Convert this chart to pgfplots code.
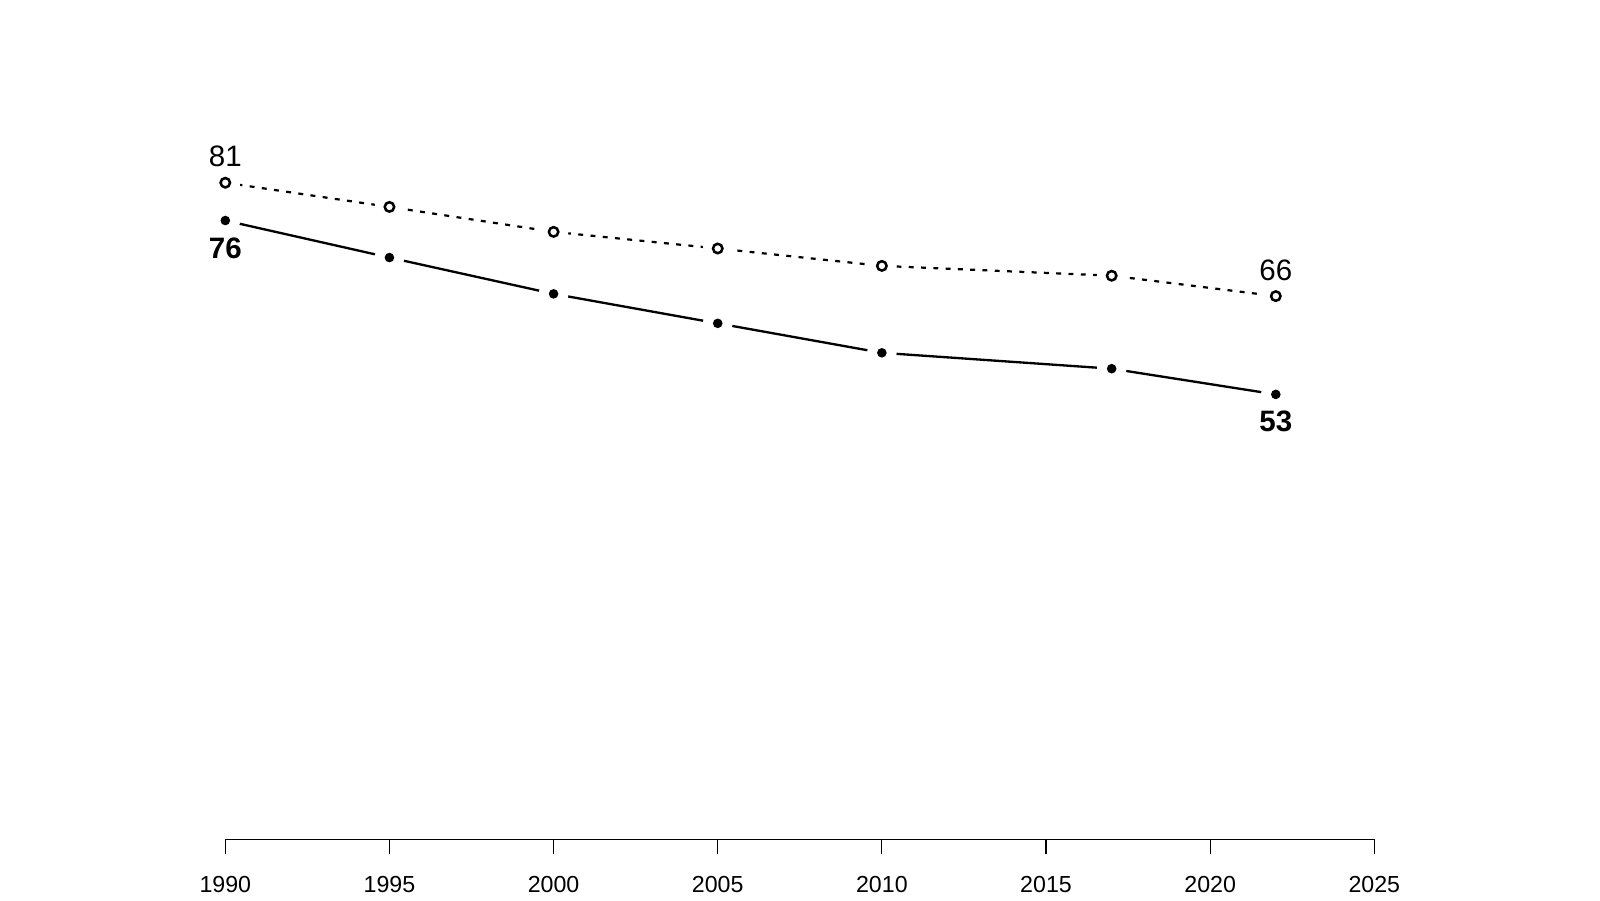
\documentclass[border=0pt]{standalone}
\usepackage{pgfplots}
\pgfplotsset{compat=1.18}
\usepackage{fontspec}
\setmainfont{Liberation Sans}
\begin{document}
\begin{tikzpicture}
\path[use as bounding box] (-2.253cm,-0.607cm) rectangle (13.747cm,8.393cm);
\begin{axis}[
  at={(0,0)}, anchor=south west,
  scale only axis, width=11.49cm, height=8.393cm,
  xmin=1990, xmax=2025, ymin=-5.85, ymax=105.17,
  axis x line*=bottom, axis y line=none,
  clip=false,
  xtick={1990,1995,2000,2005,2010,2015,2020,2025},
  tick align=outside, major tick length=0.15cm,
  tick style={line width=0.3pt, black},
  axis line style={line width=0.3pt, -},
  x tick label style={/pgf/number format/1000 sep={}, /pgf/number format/assume math mode=true,
     font=\fontsize{6.6pt}{7pt}\selectfont, anchor=base, yshift=-0.384cm},
]
% upper series (dotted, open circles)
\addplot[black, line width=0.63pt, dash pattern=on 1.4pt off 2.1pt] coordinates {
 (1990,81) (1995,77.8) (2000,74.5) (2005,72.3) (2010,70.0) (2017,68.7) (2022,66)};
\addplot[only marks, mark=*, mark size=4pt, white, mark options={fill=white, draw=white}] coordinates {
 (1990,81) (1995,77.8) (2000,74.5) (2005,72.3) (2010,70.0) (2017,68.7) (2022,66)};
\addplot[only marks, mark=o, mark size=1.34pt, black, mark options={line width=0.72pt, fill=white, solid}] coordinates {
 (1990,81) (1995,77.8) (2000,74.5) (2005,72.3) (2010,70.0) (2017,68.7) (2022,66)};
% lower series (solid, filled dots)
\addplot[black, line width=0.66pt] coordinates {
 (1990,76) (1995,71.1) (2000,66.3) (2005,62.4) (2010,58.5) (2017,56.4) (2022,53)};
\addplot[only marks, mark=*, mark size=4pt, white, mark options={fill=white, draw=white}] coordinates {
 (1990,76) (1995,71.1) (2000,66.3) (2005,62.4) (2010,58.5) (2017,56.4) (2022,53)};
\addplot[only marks, mark=*, mark size=1.15pt, black] coordinates {
 (1990,76) (1995,71.1) (2000,66.3) (2005,62.4) (2010,58.5) (2017,56.4) (2022,53)};
\node[font=\fontsize{8.4pt}{10pt}\selectfont, anchor=base, yshift=4.55pt] at (axis cs:1990,81) {81};
\node[font=\fontsize{8.4pt}{10pt}\selectfont, anchor=base, yshift=4.47pt] at (axis cs:2022,66) {66};
\node[font=\fontsize{8.4pt}{10pt}\selectfont\bfseries, anchor=base, yshift=-10.73pt] at (axis cs:1990,76) {76};
\node[font=\fontsize{8.4pt}{10pt}\selectfont\bfseries, anchor=base, yshift=-10.44pt] at (axis cs:2022,53) {53};
\end{axis}
\end{tikzpicture}
\end{document}
